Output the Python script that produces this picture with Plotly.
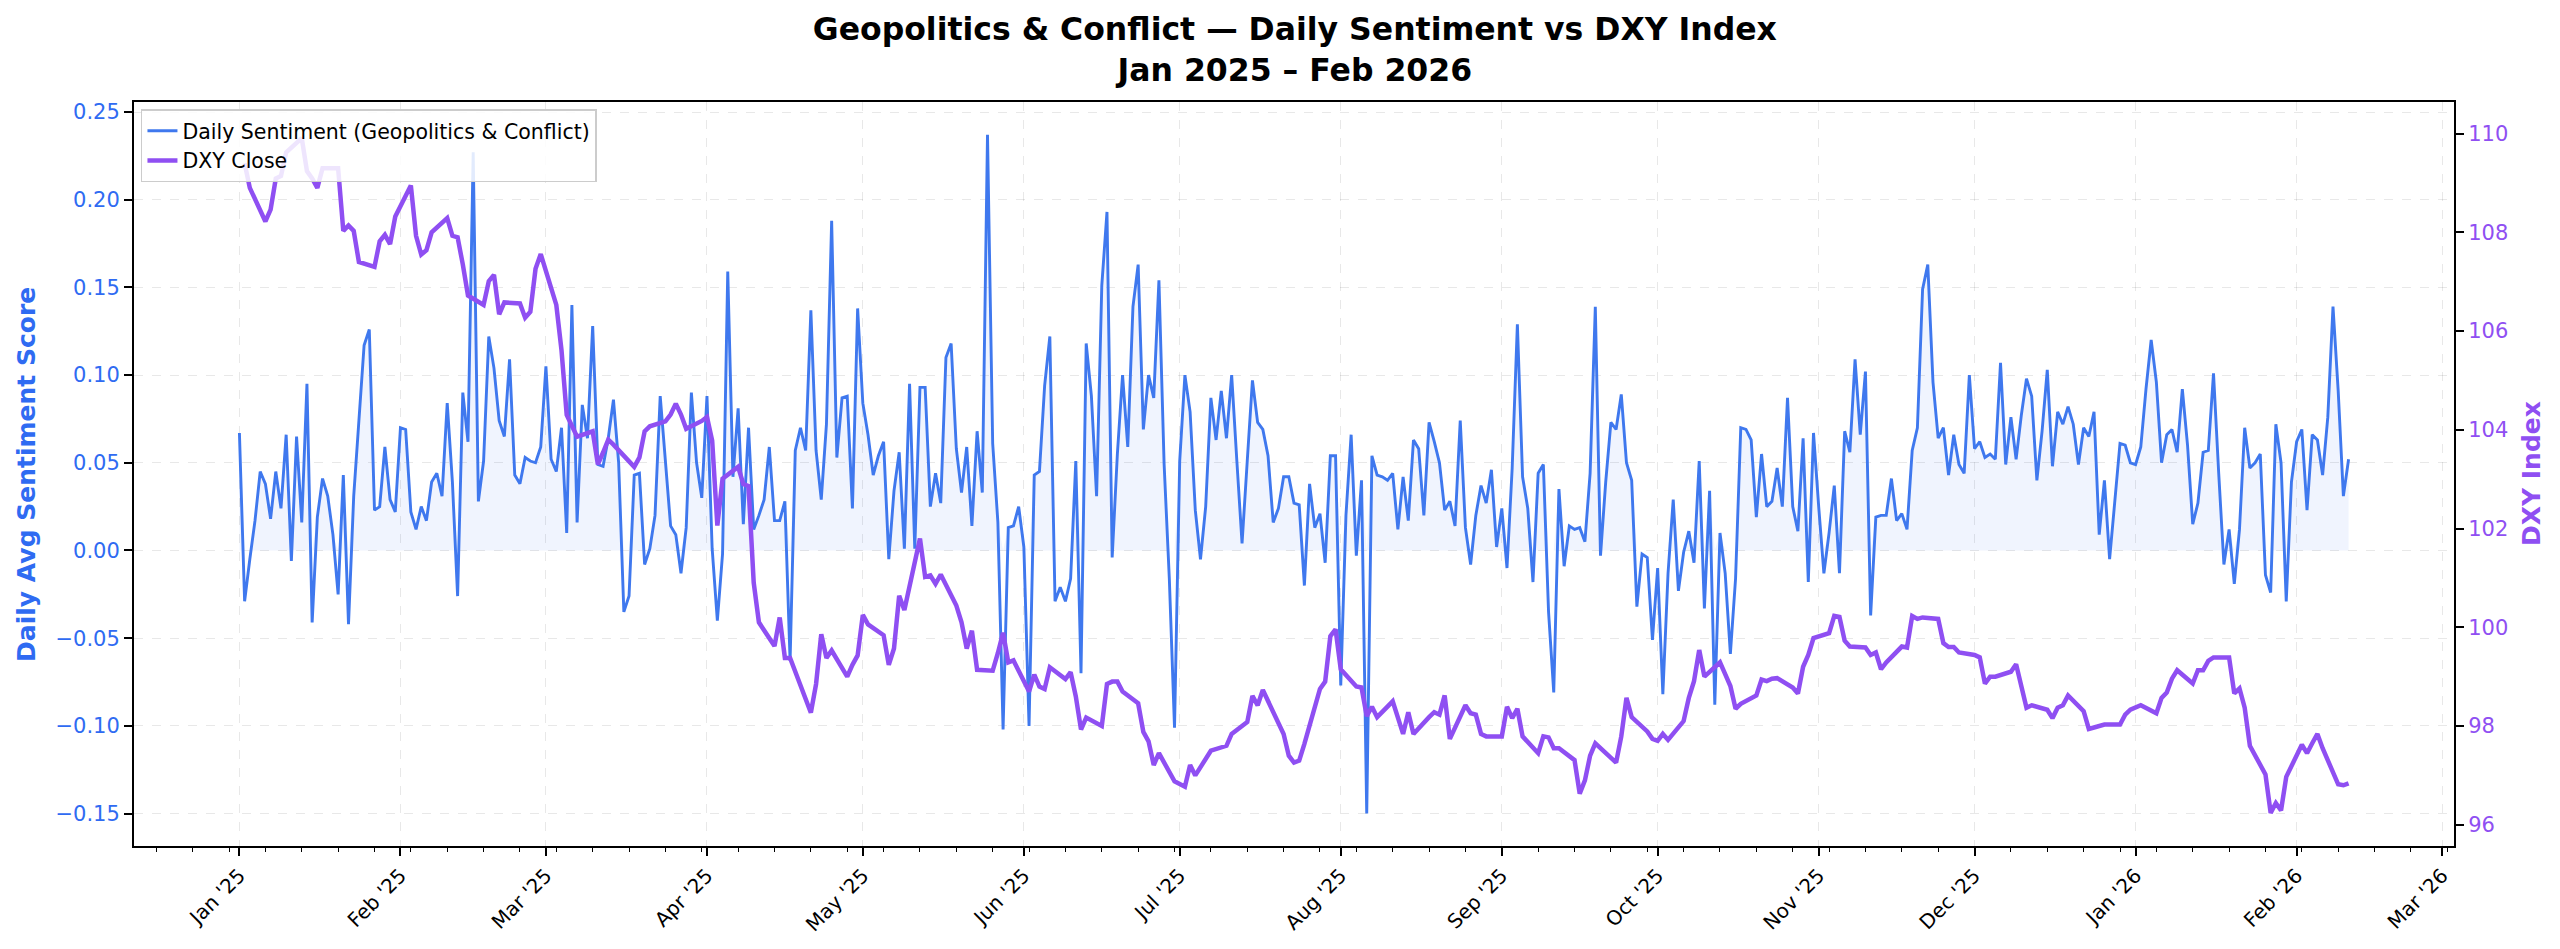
import pandas as pd
import numpy as np
import plotly.graph_objects as go

# ---------------- data ----------------
sent_jan25 = [0.067, -0.029, -0.005, 0.017, 0.045, 0.038, 0.018, 0.045, 0.024, 0.066, -0.006, 0.065, 0.016, 0.095, -0.041, 0.019,
              0.041, 0.031, 0.009, -0.025, 0.043, -0.042, 0.031, 0.077, 0.117, 0.126, 0.023, 0.025, 0.059, 0.029, 0.022]
sent_feb25 = [0.070, 0.069, 0.022, 0.012, 0.025, 0.017, 0.039, 0.044, 0.031, 0.084, 0.039, -0.026, 0.090, 0.062, 0.227, 0.028,
              0.051, 0.122, 0.104, 0.074, 0.065, 0.109, 0.043, 0.038, 0.053, 0.051, 0.050, 0.059]
sent_mar25 = [0.105, 0.052, 0.045, 0.070, 0.010, 0.140, 0.016, 0.083, 0.064, 0.128, 0.049, 0.048, 0.064, 0.086, 0.050, -0.035,
              -0.026, 0.043, 0.044, -0.008, 0.001, 0.020, 0.088, 0.051, 0.014, 0.009, -0.013, 0.013, 0.090, 0.050, 0.030]
sent_apr25 = [0.088, 0.001, -0.040, -0.002, 0.159, 0.042, 0.081, 0.015, 0.070, 0.012, 0.020, 0.029, 0.059, 0.017, 0.017, 0.028,
              -0.063, 0.057, 0.070, 0.057, 0.137, 0.057, 0.029, 0.072, 0.188, 0.053, 0.087, 0.088, 0.024, 0.138]
sent_may25 = [0.084, 0.066, 0.043, 0.054, 0.062, -0.005, 0.034, 0.056, 0.001, 0.095, 0.001, 0.093, 0.093, 0.025, 0.044, 0.027,
              0.110, 0.118, 0.058, 0.033, 0.059, 0.014, 0.068, 0.033, 0.237, 0.061, 0.016, -0.102, 0.013, 0.014, 0.025]
sent_jun25 = [0.002, -0.100, 0.043, 0.045, 0.094, 0.122, -0.029, -0.021, -0.029, -0.016, 0.051, -0.070, 0.118, 0.088, 0.031, 0.151,
              0.193, -0.004, 0.055, 0.100, 0.059, 0.139, 0.163, 0.069, 0.100, 0.087, 0.154, 0.049, -0.016, -0.101]
sent_jul25 = [0.051, 0.100, 0.079, 0.023, -0.005, 0.025, 0.087, 0.063, 0.091, 0.064, 0.100, 0.051, 0.004, 0.051, 0.097, 0.073,
              0.069, 0.054, 0.016, 0.024, 0.042, 0.042, 0.027, 0.026, -0.020, 0.038, 0.013, 0.021, -0.007, 0.054, 0.054]
sent_aug25 = [-0.077, 0.020, 0.066, -0.003, 0.040, -0.150, 0.054, 0.043, 0.042, 0.040, 0.044, 0.012, 0.042, 0.017, 0.063, 0.058,
              0.020, 0.073, 0.062, 0.050, 0.023, 0.028, 0.014, 0.074, 0.013, -0.008, 0.020, 0.037, 0.027, 0.046, 0.002]
sent_sep25 = [0.024, -0.010, 0.047, 0.129, 0.042, 0.024, -0.018, 0.044, 0.049, -0.035, -0.081, 0.035, -0.009, 0.014, 0.012, 0.013,
              0.005, 0.044, 0.139, -0.003, 0.039, 0.073, 0.069, 0.089, 0.050, 0.040, -0.032, -0.002, -0.004, -0.051]
sent_oct25 = [-0.010, -0.082, -0.013, 0.029, -0.023, -0.001, 0.011, -0.007, 0.051, -0.033, 0.034, -0.088, 0.010, -0.013, -0.059, -0.016,
              0.070, 0.069, 0.063, 0.019, 0.055, 0.025, 0.028, 0.047, 0.025, 0.087, 0.025, 0.011, 0.064, -0.018, 0.067]
sent_nov25 = [0.025, -0.013, 0.010, 0.037, -0.013, 0.068, 0.056, 0.109, 0.066, 0.102, -0.037, 0.019, 0.020, 0.020, 0.041, 0.017,
              0.021, 0.012, 0.057, 0.070, 0.149, 0.163, 0.096, 0.064, 0.070, 0.043, 0.066, 0.049, 0.044, 0.100]
sent_dec25 = [0.058, 0.062, 0.053, 0.055, 0.052, 0.107, 0.049, 0.076, 0.052, 0.077, 0.098, 0.088, 0.040, 0.068, 0.103, 0.048,
              0.079, 0.072, 0.082, 0.072, 0.049, 0.070, 0.065, 0.079, 0.009, 0.040, -0.005, 0.028, 0.061, 0.060, 0.050]
sent_jan26 = [0.049, 0.059, 0.092, 0.120, 0.096, 0.050, 0.066, 0.069, 0.056, 0.092, 0.060, 0.015, 0.027, 0.056, 0.057, 0.101,
              0.044, -0.008, 0.012, -0.019, 0.012, 0.070, 0.047, 0.050, 0.055, -0.014, -0.024, 0.072, 0.050, -0.029, 0.039]
sent_feb26 = [0.062, 0.069, 0.023, 0.066, 0.063, 0.043, 0.076, 0.139, 0.091, 0.031, 0.052]

dxy_jan25 = [109.40, 108.90, 108.22, 108.46, 109.09, 109.14, 109.62, 109.91, 109.24, 109.09, 108.90, 109.30, 109.30, 108.03,
             108.14, 108.03, 107.40, 107.30, 107.82, 107.95, 107.76, 108.32]
dxy_feb25 = [108.95, 107.93, 107.55, 107.64, 108.00, 108.29, 107.93, 107.90, 107.35, 106.72, 106.53, 107.01, 107.14, 106.34,
             106.58, 106.56, 106.27, 106.39, 107.26, 107.56]
dxy_mar25 = [106.53, 105.61, 104.30, 104.10, 103.86, 103.97, 103.30, 103.54, 103.80, 103.70, 103.34, 103.25, 103.44, 103.97,
             104.07, 104.17, 104.31, 104.53, 104.31, 104.02, 104.18]
dxy_apr25 = [104.26, 103.78, 102.06, 103.01, 103.25, 102.90, 102.86, 100.90, 100.10, 99.62, 100.20, 99.38, 99.38, 98.27,
             98.85, 99.86, 99.38, 99.53, 99.00, 99.24, 99.43]
dxy_may25 = [100.25, 100.06, 99.84, 99.24, 99.57, 100.64, 100.35, 101.80, 101.02, 101.05, 100.88, 101.07, 100.44, 100.10,
             99.57, 99.93, 99.14, 99.12, 99.48, 99.89, 99.29, 99.33]
dxy_jun25 = [98.70, 99.04, 98.80, 98.75, 99.19, 98.95, 99.09, 98.60, 97.93, 98.17, 98.00, 98.85, 98.90, 98.90, 98.70, 98.46,
             97.88, 97.69, 97.21, 97.45, 96.88]
dxy_jul25 = [96.82, 96.77, 97.21, 97.00, 97.50, 97.53, 97.55, 97.60, 97.84, 98.08, 98.61, 98.42, 98.73, 98.51, 97.84, 97.40,
             97.26, 97.30, 97.64, 98.75, 98.90, 99.82, 99.96]
dxy_aug25 = [99.15, 98.80, 98.78, 98.20, 98.39, 98.18, 98.50, 98.18, 97.84, 98.28, 97.84, 98.18, 98.28, 98.23, 98.62, 97.74,
             98.42, 98.26, 98.23, 97.84, 97.79]
dxy_sep25 = [97.79, 98.39, 98.16, 98.35, 97.79, 97.45, 97.79, 97.77, 97.55, 97.55, 97.31, 96.63, 96.90, 97.40, 97.65, 97.36,
             97.26, 97.79, 98.57, 98.18, 97.89, 97.74]
dxy_oct25 = [97.70, 97.84, 97.72, 98.10, 98.57, 98.91, 99.54, 99.00, 99.29, 99.05, 98.81, 98.35, 98.45, 98.62, 98.94, 98.91,
             98.96, 98.97, 98.78, 98.66, 99.20, 99.44, 99.78]
dxy_nov25 = [99.88, 100.23, 100.21, 99.73, 99.61, 99.59, 99.44, 99.49, 99.15, 99.29, 99.61, 99.59, 100.23, 100.17, 100.20,
             100.17, 99.68, 99.60, 99.60, 99.49]
dxy_dec25 = [99.44, 99.39, 98.86, 99.00, 99.00, 99.10, 99.25, 98.81, 98.37, 98.42, 98.33, 98.16, 98.37, 98.42, 98.62, 98.30,
             97.94, 97.97, 98.03, 98.03, 98.23, 98.33]
dxy_jan26 = [98.42, 98.26, 98.57, 98.68, 98.96, 99.13, 98.86, 99.13, 99.13, 99.32, 99.39, 99.39, 98.66, 98.76, 98.37, 97.60,
             97.02, 96.24, 96.44, 96.29, 96.97]
dxy_feb26 = [97.62, 97.45, 97.65, 97.84, 97.55, 96.82, 96.80, 96.84]

market_holidays = ["2025-01-01", "2025-04-18", "2025-12-25", "2026-01-01"]

month_ticks = pd.date_range("2025-01-01", "2026-03-01", freq="MS")
month_labels = [d.strftime("%b '%y") for d in month_ticks]
left_ticks = [-0.15, -0.10, -0.05, 0.00, 0.05, 0.10, 0.15, 0.20, 0.25]
right_ticks = [96, 98, 100, 102, 104, 106, 108, 110]

# ---------------- assemble ----------------
sentiment = (sent_jan25 + sent_feb25 + sent_mar25 + sent_apr25 + sent_may25 + sent_jun25 + sent_jul25 +
             sent_aug25 + sent_sep25 + sent_oct25 + sent_nov25 + sent_dec25 + sent_jan26 + sent_feb26)
sent_dates = pd.date_range("2025-01-01", periods=len(sentiment), freq="D")

dxy = (dxy_jan25 + dxy_feb25 + dxy_mar25 + dxy_apr25 + dxy_may25 + dxy_jun25 + dxy_jul25 +
       dxy_aug25 + dxy_sep25 + dxy_oct25 + dxy_nov25 + dxy_dec25 + dxy_jan26 + dxy_feb26)
bdays = pd.bdate_range("2025-01-02", "2026-02-11")
bdays = bdays[~bdays.isin(pd.to_datetime(market_holidays))]
dxy_dates = bdays[:len(dxy)]

BLUE = "#3F78EE"
BLUE_TXT = "#2F6BF2"
PURPLE = "#8F4FF2"
FONT = "DejaVu Sans"

sent_arr = np.array(sentiment)
pos_fill = np.where(sent_arr > 0, sent_arr, 0.0)

fig = go.Figure()
fig.add_trace(go.Scatter(x=sent_dates, y=pos_fill, mode="lines", line=dict(width=0, color="rgba(0,0,0,0)"),
                         fill="tozeroy", fillcolor="rgba(66,120,238,0.08)", showlegend=False, hoverinfo="skip"))
fig.add_trace(go.Scatter(x=sent_dates, y=sentiment, mode="lines", name="Daily Sentiment (Geopolitics & Conflict)",
                         line=dict(color=BLUE, width=2.9)))
fig.add_trace(go.Scatter(x=dxy_dates, y=dxy, mode="lines", name="DXY Close", yaxis="y2",
                         line=dict(color=PURPLE, width=4.5)))

grid = dict(showgrid=True, gridcolor="rgba(0,0,0,0.09)", griddash="dash", gridwidth=1)

fig.update_layout(
    template="none",
    width=2560, height=949, autosize=False,
    margin=dict(l=134, r=106, t=102, b=103, autoexpand=False),
    paper_bgcolor="white", plot_bgcolor="white",
    font=dict(family=FONT, size=21, color="black"),
    title=dict(text="<b>Geopolitics & Conflict — Daily Sentiment vs DXY Index<br>Jan 2025 – Feb 2026</b>",
               x=0.5058, xanchor="center", y=0.958, yanchor="middle", yref="container",
               font=dict(family=FONT, size=31.5, color="black")),
    xaxis=dict(type="date", range=["2024-12-11 17:00:00", "2026-03-03 07:00:00"], automargin=False,
               tickvals=month_ticks, ticktext=month_labels, tickangle=-45,
               ticks="outside", ticklen=8, tickwidth=1.5, tickcolor="black",
               tickfont=dict(family=FONT, size=20, color="black"),
               showline=True, linecolor="black", linewidth=2, mirror=True, zeroline=False,
               minor=dict(ticks="outside", ticklen=4, tickwidth=1.2, tickcolor="black",
                          tick0="2025-01-06", dtick=7 * 86400000, showgrid=False),
               **grid),
    yaxis=dict(range=[-0.1685, 0.2557], tickvals=left_ticks, automargin=False,
               ticktext=[f"{v:.2f}".replace("-", "−") for v in left_ticks],
               ticks="outside", ticklen=8, tickwidth=1.5, tickcolor="black",
               tickfont=dict(family=FONT, size=21, color=BLUE_TXT),
               showline=True, linecolor="black", linewidth=2, mirror=True, zeroline=False,
               **grid),
    yaxis2=dict(range=[95.57, 110.64], overlaying="y", side="right", tickvals=right_ticks, automargin=False,
                ticks="outside", ticklen=8, tickwidth=1.5, tickcolor="black",
                tickfont=dict(family=FONT, size=21, color=PURPLE),
                showline=True, linecolor="black", linewidth=2, showgrid=False, zeroline=False),
    legend=dict(x=0.003, y=0.99, xanchor="left", yanchor="top",
                bgcolor="rgba(255,255,255,0.85)", bordercolor="#cccccc", borderwidth=1.5,
                font=dict(family=FONT, size=20.5, color="black"), tracegroupgap=0, itemwidth=30),
    annotations=[
        dict(text="<b>Daily Avg Sentiment Score</b>", xref="paper", yref="paper", x=-0.0466, y=0.5,
             xanchor="center", yanchor="middle", textangle=-90, showarrow=False,
             font=dict(family=FONT, size=25, color=BLUE_TXT)),
        dict(text="<b>DXY Index</b>", xref="paper", yref="paper", x=1.0332, y=0.5,
             xanchor="center", yanchor="middle", textangle=-90, showarrow=False,
             font=dict(family=FONT, size=25, color=PURPLE)),
    ],
)

fig.write_html("out.html", config={"displayModeBar": False},
               post_script="document.body.style.margin='0px';document.body.style.overflow='hidden';")
